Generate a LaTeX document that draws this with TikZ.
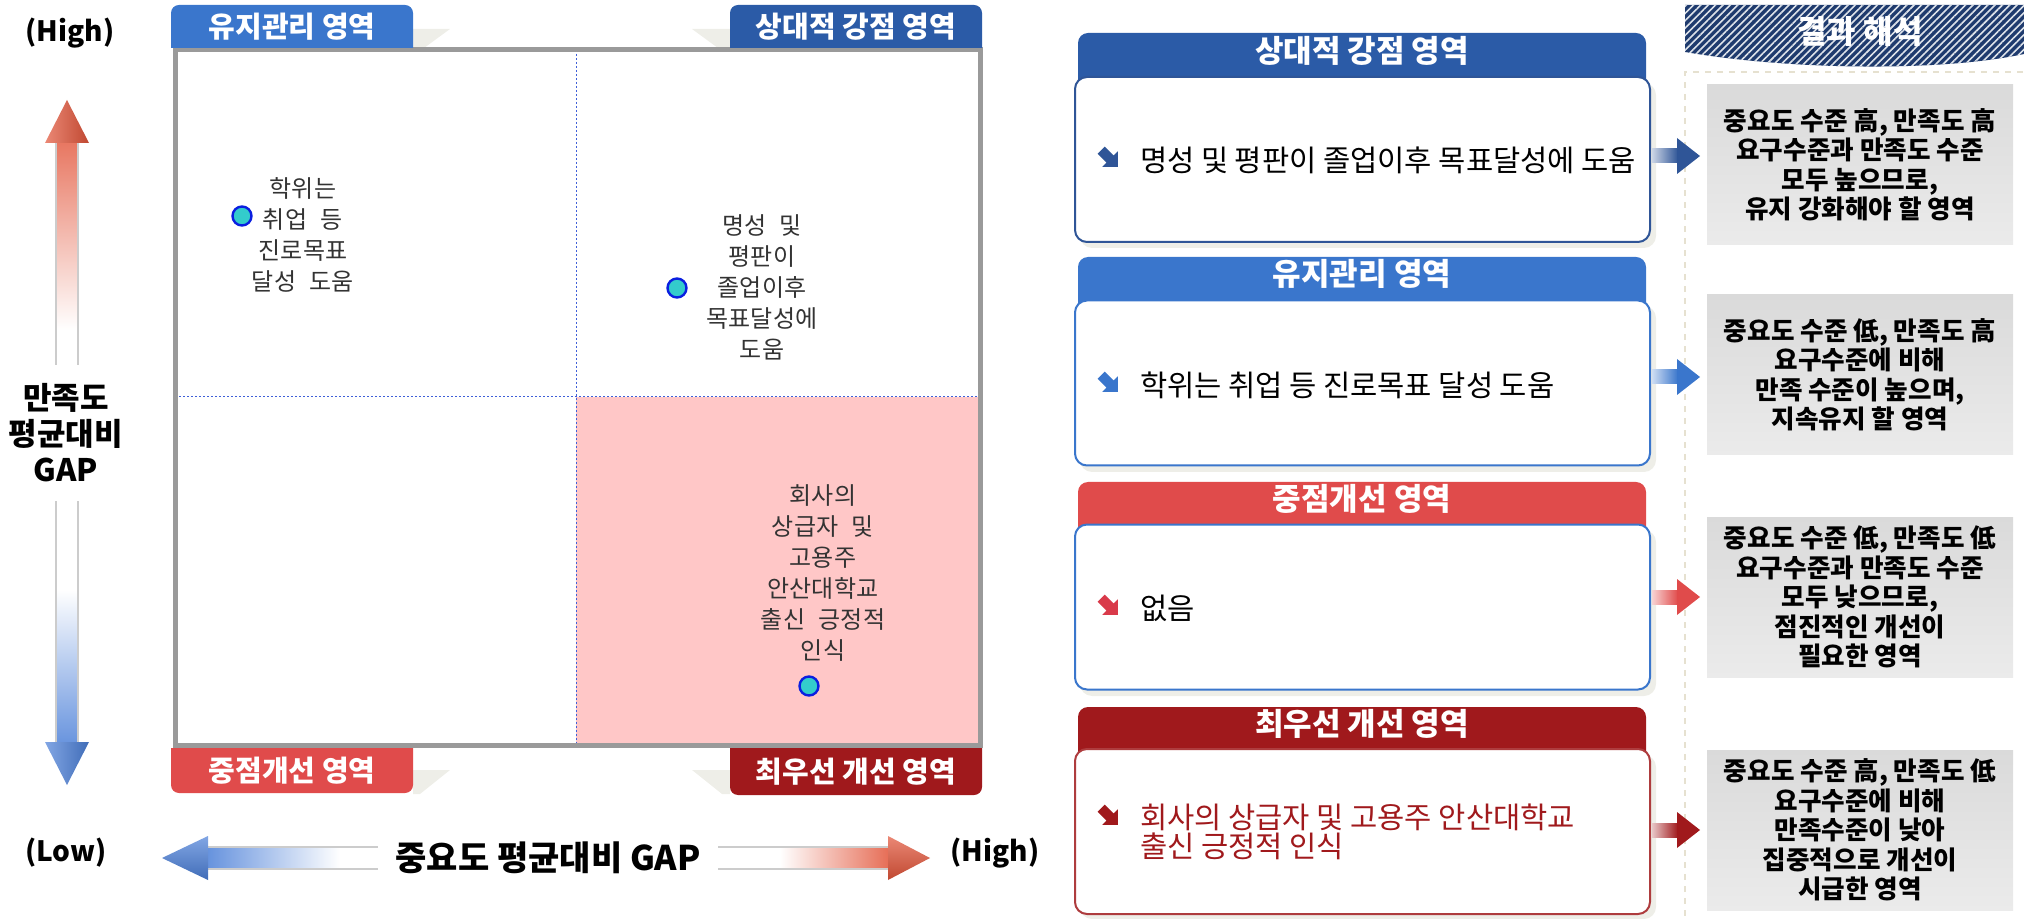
\documentclass[tikz,border=0pt]{standalone}
\usepackage{fontspec}
\setmainfont{Noto Sans CJK KR}
\usetikzlibrary{patterns.meta}
\definecolor{navyA}{HTML}{2B5BA7}
\definecolor{navyB}{HTML}{2F5597}
\definecolor{blueA}{HTML}{3A76CC}
\definecolor{redA}{HTML}{E04B4B}
\definecolor{redB}{HTML}{A0191C}
\definecolor{redBul}{HTML}{D93A4A}
\definecolor{pinkQ}{HTML}{FFC7C7}
\definecolor{frameG}{HTML}{9A9A9A}
\definecolor{dashB}{HTML}{3F5FD8}
\definecolor{ptTeal}{HTML}{33CCCC}
\definecolor{ptBlue}{HTML}{0A1FE0}
\definecolor{qtext}{HTML}{333333}
\definecolor{shadowC}{HTML}{EEEEE8}
\definecolor{bannerC}{HTML}{1F3B6E}
\definecolor{dashBeige}{HTML}{E6E1D0}
\definecolor{arrRed}{HTML}{E2553A}
\definecolor{arrBlue}{HTML}{4C80D8}
\definecolor{grayTop}{HTML}{DADADA}
\definecolor{grayBot}{HTML}{EBEBEB}
\begin{document}
\begin{tikzpicture}[x=0.5pt,y=-0.5pt,
  every node/.style={inner sep=0pt, outer sep=0pt},
  qlabel/.style={align=center, text=qtext, font=\fontsize{12pt}{15.5pt}\selectfont},
  tabtext/.style={text=white, font=\bfseries\fontsize{14.5pt}{16pt}\selectfont},
  headtext/.style={text=white, font=\bfseries\fontsize{15.5pt}{17pt}\selectfont},
  paneltext/.style={anchor=west, align=left, font=\fontsize{14.8pt}{14.5pt}\selectfont},
  panelbox/.style={fill=white, line width=1pt, rounded corners=6pt, minimum width=287.5pt, minimum height=82.5pt},
  graybox/.style={top color=grayTop, bottom color=grayBot, minimum width=153pt, minimum height=80pt, align=center, font=\bfseries\fontsize{12.8pt}{14.75pt}\selectfont},
  ptmark/.style={circle, draw=ptBlue, fill=ptTeal, line width=1.2pt, minimum size=9.5pt},
  axislabel/.style={font=\bfseries\fontsize{14pt}{16pt}\selectfont},
  bul/.pic={\fill[#1, rotate=-45] (-11,-5) -- (1.5,-5) -- (1.5,-11) -- (12.5,0) -- (1.5,11) -- (1.5,5) -- (-11,5) -- cycle;},
  barr/.pic={\shade[left color=#1!25, right color=#1] (0,-7) rectangle (26,7); \fill[#1] (25,-18) -- (48,0) -- (25,18) -- cycle;}
]
\useasboundingbox (0,0) rectangle (2024,919);

% ---------- quadrant chart ----------
\fill[white] (175,50) rectangle (980,745);
\fill[pinkQ] (576,397) rectangle (980,745);
\draw[dashB, line width=0.5pt, dash pattern=on 1.2pt off 0.8pt] (576,50) -- (576,745);
\draw[dashB, line width=0.5pt, dash pattern=on 1.2pt off 0.8pt] (175,397) -- (980,397);

% tab shadows
\fill[shadowC] (413,29) -- (450,29) -- (420,51) -- (413,51) -- cycle;
\fill[shadowC] (730,29) -- (692,29) -- (722,51) -- (730,51) -- cycle;
\fill[shadowC] (413,770) -- (450,770) -- (420,794) -- (413,794) -- cycle;
\fill[shadowC] (730,770) -- (692,770) -- (722,794) -- (730,794) -- cycle;

\draw[frameG, line width=2.5pt] (175,50) rectangle (980,745);

% tabs
\begin{scope}
\clip (160,0) rectangle (1000,48);
\fill[blueA, rounded corners=4pt] (171,5) rectangle (413,80);
\fill[navyA, rounded corners=4pt] (730,5) rectangle (982,80);
\end{scope}
\begin{scope}
\clip (160,748) rectangle (1000,800);
\fill[redA, rounded corners=4pt] (171,710) rectangle (413,793);
\fill[redB, rounded corners=4pt] (730,710) rectangle (982,795);
\end{scope}
\node[tabtext] (tabTL) at (292,27) {유지관리 영역};
\node[tabtext] (tabTR) at (856,27) {상대적 강점 영역};
\node[tabtext] (tabBL) at (292,771) {중점개선 영역};
\node[tabtext] (tabBR) at (856,772) {최우선 개선 영역};

% points and labels
\node[ptmark] (p1) at (242,216) {};
\node[ptmark] (p2) at (677,288) {};
\node[ptmark] (p3) at (809,686) {};
\node[qlabel] (q1) at (303,235) {학위는\\취업\hspace{0.35em} 등\\진로목표\\달성\hspace{0.35em} 도움};
\node[qlabel] (q2) at (762,287) {명성\hspace{0.35em} 및\\평판이\\졸업이후\\목표달성에\\도움};
\node[qlabel] (q3) at (823,573) {회사의\\상급자\hspace{0.35em} 및\\고용주\\안산대학교\\출신\hspace{0.35em} 긍정적\\인식};

% vertical axis arrow
\shade[top color=arrRed!80, bottom color=white] (56,142) rectangle (78,330);
\fill[white] (56,330) rectangle (78,590);
\shade[top color=white, bottom color=arrBlue!85] (56,590) rectangle (78,745);
\draw[gray!40, line width=0.6pt] (56,142) -- (56,745) (78,142) -- (78,745);
\shade[left color=arrRed!70, right color=arrRed!85!black] (45,143) -- (67,100) -- (89,143) -- cycle;
\shade[left color=arrBlue!70, right color=arrBlue!85!black] (45,742) -- (67,785) -- (89,742) -- cycle;
\node[fill=white, align=center, minimum height=67.5pt, inner xsep=2pt, font=\bfseries\fontsize{15.5pt}{18pt}\selectfont] (ylab) at (66,433) {만족도\\평균대비\\GAP};

% horizontal axis arrow
\shade[left color=arrBlue!85, right color=white] (208,847) rectangle (340,869);
\fill[white] (340,847) rectangle (780,869);
\shade[left color=white, right color=arrRed!85] (780,847) rectangle (888,869);
\draw[gray!40, line width=0.6pt] (208,847) -- (888,847) (208,869) -- (888,869);
\shade[top color=arrBlue!70, bottom color=arrBlue!85!black] (208,836) -- (162,858) -- (208,880) -- cycle;
\shade[top color=arrRed!70, bottom color=arrRed!85!black] (888,836) -- (930,858) -- (888,880) -- cycle;
\node[fill=white, minimum height=28pt, inner xsep=9pt, font=\bfseries\fontsize{17pt}{19pt}\selectfont] (xlab) at (548,858) {중요도 평균대비 GAP};

\node[axislabel] (hiY) at (70,33) {(High)};
\node[axislabel] (lowX) at (66,853) {(Low)};
\node[axislabel] (hiX) at (995,853) {(High)};

% ---------- right panels ----------
% panel 1
\fill[navyA, rounded corners=5pt] (1078,33) rectangle (1646,110);
\fill[shadowC, rounded corners=6pt] (1080,83) rectangle (1656,248);
\node[panelbox, draw=navyB] (b1) at (1362.5,159.5) {};
\node[headtext] (h1) at (1362,51) {상대적 강점 영역};
\pic at (1109,158) {bul=navyB};
\node[paneltext] (t1) at (1140,160) {명성 및 평판이 졸업이후 목표달성에 도움};

% panel 2
\fill[blueA, rounded corners=5pt] (1078,257) rectangle (1646,330);
\fill[shadowC, rounded corners=6pt] (1080,306) rectangle (1656,472);
\node[panelbox, draw=blueA] (b2) at (1362.5,383) {};
\node[headtext] (h2) at (1362,274) {유지관리 영역};
\pic at (1109,383) {bul=blueA};
\node[paneltext] (t2) at (1140,385) {학위는 취업 등 진로목표 달성 도움};

% panel 3
\fill[redA, rounded corners=5pt] (1078,482) rectangle (1646,560);
\fill[shadowC, rounded corners=6pt] (1080,530) rectangle (1656,696);
\node[panelbox, draw=blueA] (b3) at (1362.5,607) {};
\node[headtext] (h3) at (1362,499) {중점개선 영역};
\pic at (1109,606) {bul=redBul};
\node[paneltext] (t3) at (1140,608) {없음};

% panel 4
\fill[redB, rounded corners=5pt] (1078,707) rectangle (1646,780);
\fill[shadowC, rounded corners=6pt] (1080,755) rectangle (1656,919);
\node[panelbox, draw=redB!85] (b4) at (1362.5,831.5) {};
\node[headtext] (h4) at (1362,724) {최우선 개선 영역};
\pic at (1109,816) {bul=redB};
\node[paneltext, text=redB] (t4) at (1140,832) {회사의 상급자 및 고용주 안산대학교\\출신 긍정적 인식};

% ---------- interpretation column ----------
\draw[dashBeige, line width=1pt, dashed] (1685,916) -- (1685,72) -- (2024,72);
\fill[bannerC] (1685,5) -- (2024,5) -- (2024,54) .. controls (1940,72) and (1790,70) .. (1685,52) -- cycle;
\fill[pattern={Lines[angle=45, distance=2.6pt, line width=0.8pt]}, pattern color=white!85!bannerC] (1685,5) -- (2024,5) -- (2024,54) .. controls (1940,72) and (1790,70) .. (1685,52) -- cycle;
\node[text=white, font=\bfseries\fontsize{16pt}{18pt}\selectfont] (ban) at (1860,32) {결과 해석};

\node[graybox] (g1) at (1860,165) {중요도 수준 高, 만족도 高\\요구수준과 만족도 수준\\모두 높으므로,\\유지 강화해야 할 영역};
\node[graybox] (g2) at (1860,375) {중요도 수준 低, 만족도 高\\요구수준에 비해\\만족 수준이 높으며,\\지속유지 할 영역};
\node[graybox] (g3) at (1860,597) {중요도 수준 低, 만족도 低\\요구수준과 만족도 수준\\모두 낮으므로,\\점진적인 개선이\\필요한 영역};
\node[graybox] (g4) at (1860,830) {중요도 수준 高, 만족도 低\\요구수준에 비해\\만족수준이 낮아\\집중적으로 개선이\\시급한 영역};

% block arrows panel -> interpretation
\pic at (1652,156) {barr=navyB};
\pic at (1652,377) {barr=blueA};
\pic at (1652,597) {barr=redA};
\pic at (1652,830) {barr=redB};
\end{tikzpicture}
\end{document}
